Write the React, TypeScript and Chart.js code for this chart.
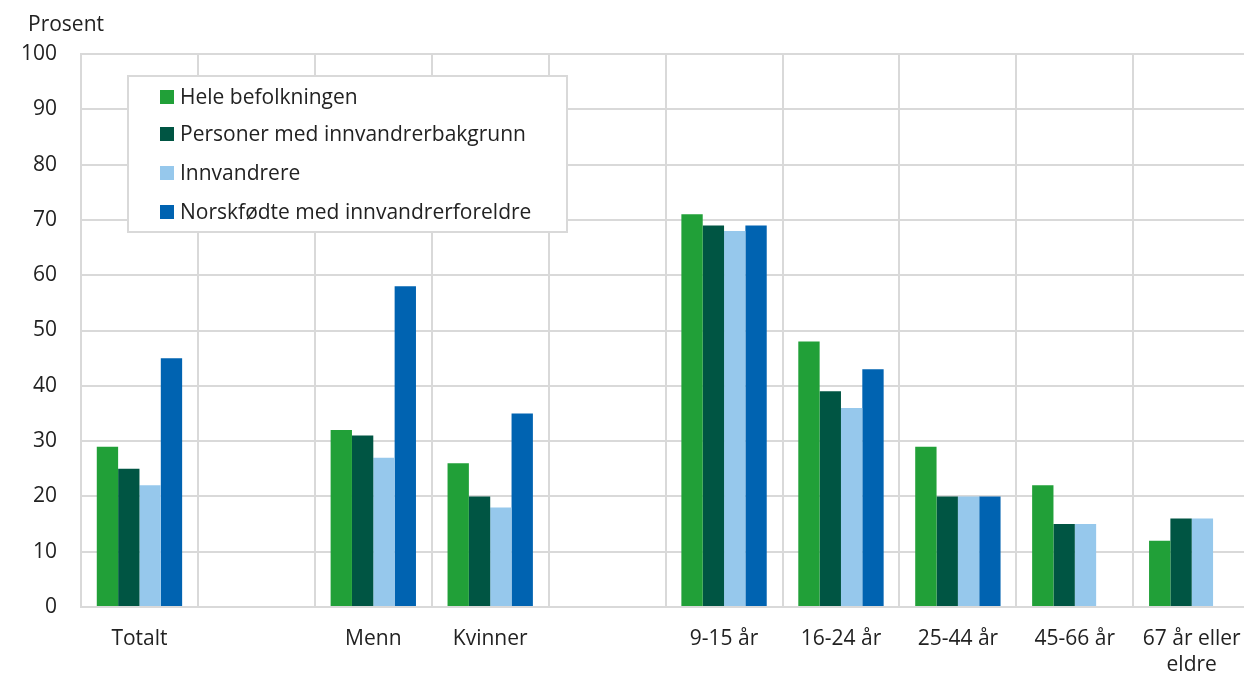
import React, { useEffect, useRef } from "react";
import { Chart, registerables } from "chart.js";

Chart.register(...registerables);

const categories: (string | string[])[] = [
  "Totalt",
  "",
  "Menn",
  "Kvinner",
  "",
  "9-15 år",
  "16-24 år",
  "25-44 år",
  "45-66 år",
  ["67 år eller", "eldre"],
];

const seriesNames = [
  "Hele befolkningen",
  "Personer med innvandrerbakgrunn",
  "Innvandrere",
  "Norskfødte med innvandrerforeldre",
];

const heleBefolkningen = [29, null, 32, 26, null, 71, 48, 29, 22, 12];
const medInnvandrerbakgrunn = [25, null, 31, 20, null, 69, 39, 20, 15, 16];
const innvandrere = [22, null, 27, 18, null, 68, 36, 20, 15, 16];
const norskfodte = [45, null, 58, 35, null, 69, 43, 20, null, null];

const colors = ["#21a038", "#005543", "#96c8ec", "#0063b1"];

const yTicks = [0, 10, 20, 30, 40, 50, 60, 70, 80, 90, 100];

const FONT = "'Open Sans', 'Noto Sans', sans-serif";
const FS = 21;
const TEXT = "#222222";
const GRID = "#d9d9d9";

const legendPlugin = {
  id: "boxLegend",
  afterDraw(chart: any) {
    const { ctx } = chart;
    const x0 = 128;
    const y0 = 76;
    const w = 439;
    const h = 156;
    ctx.save();
    ctx.fillStyle = "#ffffff";
    ctx.fillRect(x0, y0, w, h);
    ctx.strokeStyle = GRID;
    ctx.lineWidth = 2;
    ctx.strokeRect(x0, y0, w, h);
    const rows = [97, 134, 173, 212];
    ctx.font = `${FS}px ${FONT}`;
    ctx.textBaseline = "middle";
    ctx.textAlign = "left";
    chart.data.datasets.forEach((ds: any, i: number) => {
      const cy = rows[i];
      ctx.fillStyle = ds.backgroundColor;
      ctx.fillRect(160, cy - 7, 14, 14);
      ctx.fillStyle = TEXT;
      ctx.fillText(ds.label, 180, cy + 1);
    });
    ctx.fillStyle = TEXT;
    ctx.fillText("Prosent", 28, 25);
    ctx.restore();
  },
};

export default function App() {
  const ref = useRef<HTMLCanvasElement | null>(null);
  useEffect(() => {
    if (!ref.current) return;
    const data = [heleBefolkningen, medInnvandrerbakgrunn, innvandrere, norskfodte];
    const chart = new Chart(ref.current, {
      type: "bar",
      data: {
        labels: categories as any,
        datasets: data.map((d, i) => ({
          label: seriesNames[i],
          data: d,
          backgroundColor: colors[i],
          borderWidth: 0,
          categoryPercentage: 0.73,
          barPercentage: 1.0,
        })),
      },
      plugins: [legendPlugin],
      options: {
        animation: false,
        responsive: false,
        maintainAspectRatio: false,
        layout: { padding: { top: 54, left: 0, right: 6, bottom: 0 } },
        plugins: {
          legend: { display: false },
          tooltip: { enabled: false },
          title: { display: false },
        },
        scales: {
          x: {
            grid: { color: GRID, lineWidth: 2, drawTicks: false, offset: true },
            border: { color: GRID, width: 2 },
            ticks: {
              color: TEXT,
              font: { family: FONT, size: FS, lineHeight: 1.24 },
              padding: 19,
              maxRotation: 0,
              autoSkip: false,
            },
            afterFit: (s: any) => {
              s.height = 70;
            },
          },
          y: {
            min: 0,
            max: 100,
            afterBuildTicks: (s: any) => {
              s.ticks = yTicks.map((v) => ({ value: v }));
            },
            grid: { color: GRID, lineWidth: 2, drawTicks: false },
            border: { color: GRID, width: 2 },
            ticks: {
              color: TEXT,
              font: { family: FONT, size: FS },
              padding: 24,
            },
            afterFit: (s: any) => {
              s.width = 81;
            },
          },
        },
      },
    });
    return () => chart.destroy();
  }, []);
  return (
    <div
      style={{
        position: "fixed",
        left: 0,
        top: 0,
        width: 1244,
        height: 677,
        overflow: "hidden",
        background: "#ffffff",
      }}
    >
      <canvas ref={ref} width={1260} height={677} style={{ display: "block" }} />
    </div>
  );
}
